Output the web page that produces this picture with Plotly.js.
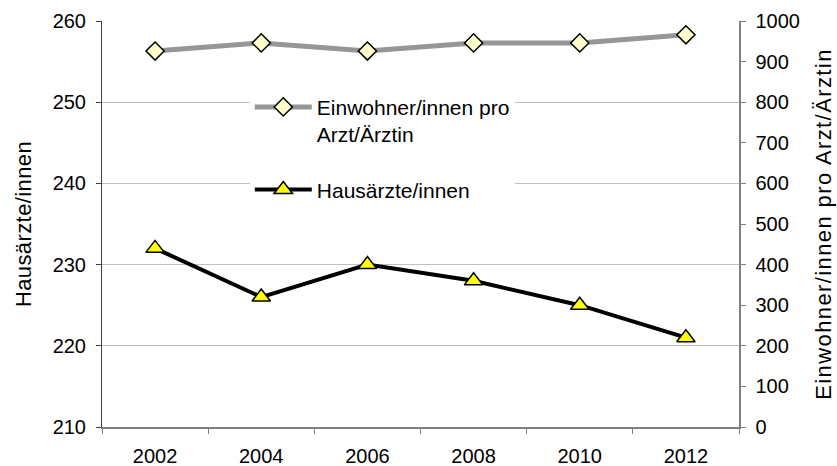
<!DOCTYPE html>
<html>
<head>
<meta charset="utf-8">
<script src="https://cdn.plot.ly/plotly-3.0.1.min.js"></script>
<style>
html,body{margin:0;padding:0;background:#fff}
#chart{width:837px;height:466px}
#chart .y2title{letter-spacing:1.4px}
#chart .ytitle{letter-spacing:0.4px}
</style>
</head>
<body>
<div id="chart"></div>
<script>
const years = ["2002", "2004", "2006", "2008", "2010", "2012"];
const einwohnerProArzt = [926, 946, 926, 946, 946, 966];
const hausaerzte = [232, 226, 230, 228, 225, 221];
const nameEinwohner = "Einwohner/innen pro<br>Arzt/Ärztin";
const nameHausaerzte = "Hausärzte/innen";
const leftTitle = "Hausärzte/innen";
const rightTitle = "\u00A0\u00A0\u00A0\u00A0\u00A0Einwohner/innen pro Arzt/Ärztin";

const FONT = "Liberation Sans, Arial, sans-serif";

const traces = [
  {
    x: years, y: einwohnerProArzt, name: nameEinwohner, yaxis: "y2",
    type: "scatter", mode: "lines+markers", legendgroup: "a",
    line: {color: "#969696", width: 5},
    marker: {symbol: "diamond", size: 14, color: "#FFFFCC", line: {color: "#000", width: 1.5}}
  },
  {
    x: years, y: hausaerzte, name: nameHausaerzte, yaxis: "y",
    type: "scatter", mode: "lines+markers", legendgroup: "b",
    line: {color: "#000", width: 4},
    marker: {symbol: "triangle-up", size: 16, color: "#FFFF00", line: {color: "#000", width: 1.5}}
  }
];

const layout = {
  width: 837, height: 466,
  margin: {l: 102, r: 98, t: 21, b: 39},
  paper_bgcolor: "#fff", plot_bgcolor: "#fff",
  font: {family: FONT, size: 20, color: "#000"},
  showlegend: true,
  legend: {
    x: 0.232, y: 0.838, xanchor: "left", yanchor: "top",
    bgcolor: "#fff", borderwidth: 0, valign: "top",
    traceorder: "grouped", tracegroupgap: 25, itemwidth: 57,
    font: {family: FONT, size: 21, color: "#000"}
  },
  xaxis: {
    type: "category", range: [-0.5, 5.5], tickson: "boundaries",
    ticks: "outside", ticklen: 5, tickcolor: "#808080",
    showline: true, linecolor: "#808080", linewidth: 1.5,
    showgrid: false, zeroline: false, ticklabelstandoff: 10,
    tickfont: {family: FONT, size: 20, color: "#000"}
  },
  yaxis: {
    range: [210, 260], dtick: 10, tick0: 210,
    ticks: "outside", ticklen: 5, tickcolor: "#404040",
    showline: true, linecolor: "#404040", linewidth: 1,
    showgrid: false, zeroline: false,
    minor: {tickmode: "array", tickvals: [220, 230, 240, 250], showgrid: true, gridcolor: "#c0c0c0", gridwidth: 1, ticks: ""},
    ticklabelstandoff: 6,
    tickfont: {family: FONT, size: 20, color: "#000"},
    title: {text: leftTitle, font: {family: FONT, size: 22, color: "#000"}, standoff: 14}
  },
  yaxis2: {
    overlaying: "y", side: "right", anchor: "x",
    range: [0, 1000], dtick: 100, tick0: 0,
    ticks: "outside", ticklen: 5, tickcolor: "#808080",
    showline: true, linecolor: "#808080", linewidth: 1.5,
    showgrid: false, zeroline: false,
    ticklabelstandoff: 6,
    tickfont: {family: FONT, size: 20, color: "#000"},
    title: {text: rightTitle, font: {family: FONT, size: 22, color: "#000"}, standoff: 16}
  }
};

Plotly.newPlot("chart", traces, layout, {displayModeBar: false, staticPlot: true});
</script>
</body>
</html>
